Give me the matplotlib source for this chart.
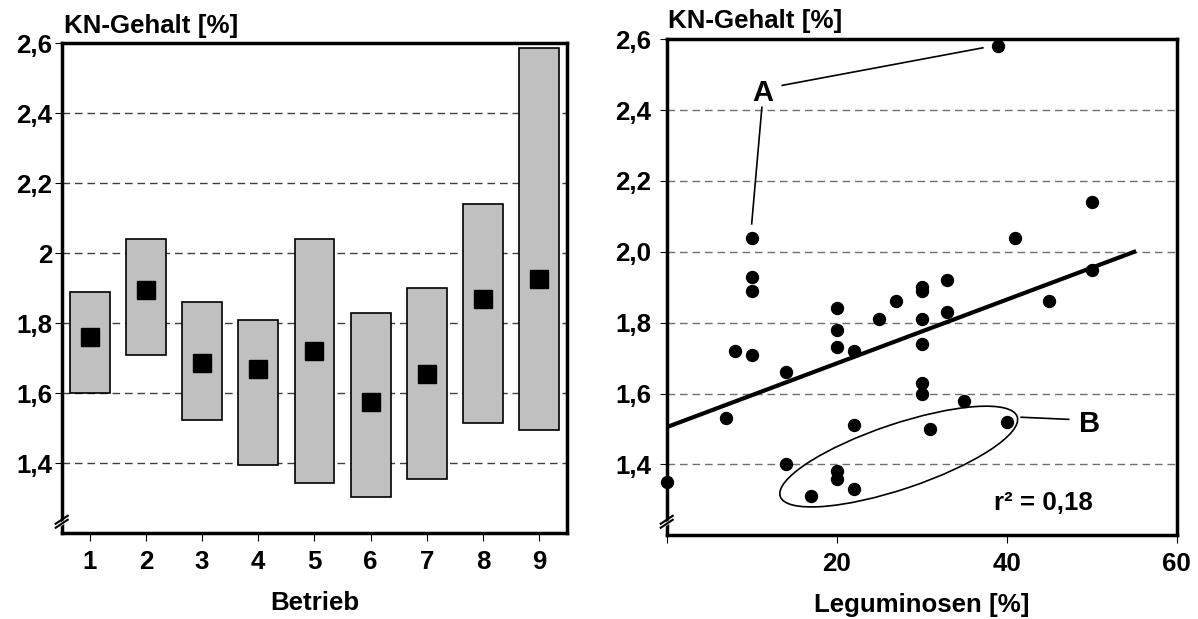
import numpy as np
import matplotlib.pyplot as plt
from matplotlib.patches import Ellipse, Polygon
from matplotlib.transforms import ScaledTranslation

plt.rc('font', family='Liberation Sans', weight='bold', size=18.6)
plt.rc('axes', labelweight='bold')

# KN-Gehalt je Betrieb: Spannweite (min/max) und Mittelwert
betrieb = [1, 2, 3, 4, 5, 6, 7, 8, 9]
kn_min = [1.60, 1.71, 1.525, 1.395, 1.345, 1.305, 1.355, 1.515, 1.495]
kn_max = [1.89, 2.04, 1.86, 1.81, 2.04, 1.83, 1.90, 2.14, 2.585]
kn_mean = [1.76, 1.895, 1.685, 1.67, 1.72, 1.575, 1.655, 1.87, 1.925]

# KN-Gehalt gegen Leguminosenanteil
leg = [39, 10, 10, 10, 50, 41, 50, 33, 30, 30, 27, 45, 20, 33, 25, 30, 20, 20,
       22, 8, 10, 14, 30, 30, 30, 35, 7, 22, 31, 40, 14, 0, 20, 20, 17, 22]
kn = [2.58, 2.04, 1.93, 1.89, 2.14, 2.04, 1.95, 1.92, 1.90, 1.89, 1.86, 1.86,
      1.84, 1.83, 1.81, 1.81, 1.78, 1.73, 1.72, 1.72, 1.71, 1.66, 1.74, 1.63,
      1.60, 1.58, 1.53, 1.51, 1.50, 1.52, 1.40, 1.35, 1.38, 1.36, 1.31, 1.33]

# Regressionsgerade
reg_intercept = 1.505
reg_slope = 0.009
reg_xmax = 55
r2 = 0.18

yticks = [1.4, 1.6, 1.8, 2.0, 2.2, 2.4, 2.6]
left_ylabels = ['1,4', '1,6', '1,8', '2', '2,2', '2,4', '2,6']
right_ylabels = ['1,4', '1,6', '1,8', '2,0', '2,2', '2,4', '2,6']

fig = plt.figure(figsize=(11.98, 6.19), dpi=100)
ax1 = fig.add_axes([0.0515, 0.1384, 0.4220, 0.7921])
ax2 = fig.add_axes([0.5565, 0.1354, 0.4257, 0.8011])


def style_axes(ax, gridcolor, ypad):
    for s in ax.spines.values():
        s.set_linewidth(2.5)
    ax.set_ylim(1.2, 2.6)
    ax.set_yticks(yticks)
    ax.tick_params(axis='y', direction='out', length=5.3, width=0.8, pad=ypad)
    ax.tick_params(axis='x', direction='out', length=6, width=0.8, pad=6)
    ax.set_axisbelow(True)
    ax.yaxis.grid(True, color=gridcolor, linestyle=(0, (5.5, 3.5)), linewidth=1)


def axis_break(ax, yfrac):
    # "//" Achsenbruch unten an der y-Achse
    tr = fig.dpi_scale_trans + ScaledTranslation(0, yfrac, ax.transAxes)
    gap = Polygon([(-0.06, -0.07), (0.06, 0.01), (0.06, 0.05), (-0.06, -0.03)],
                  closed=True, facecolor='white', edgecolor='none',
                  transform=tr, clip_on=False, zorder=10)
    ax.add_patch(gap)
    for dy in (-0.03, 0.01):
        ax.plot([-0.06, 0.06], [dy - 0.02, dy + 0.06], color='black', lw=1.5,
                transform=tr, clip_on=False, zorder=11)


# linkes Diagramm
style_axes(ax1, '#404040', 1.5)
ax1.bar(betrieb, np.array(kn_max) - np.array(kn_min), bottom=kn_min, width=0.71,
        color='#c0c0c0', edgecolor='black', linewidth=1.2, zorder=2)
ax1.plot(betrieb, kn_mean, 's', color='black', markersize=13, zorder=3)
ax1.set_xlim(0.5, 9.5)
ax1.set_xticks(betrieb)
ax1.set_yticklabels(left_ylabels)
ax1.set_xlabel('Betrieb', labelpad=12.5)
ax1.text(0.005, 1.0198, 'KN-Gehalt [%]', transform=ax1.transAxes,
         ha='left', va='baseline')
axis_break(ax1, 0.0216)

# rechtes Diagramm
style_axes(ax2, '#707070', 5.6)
ax2.plot(leg, kn, 'o', color='black', markersize=8.6, clip_on=False, zorder=5)
xs = np.array([0, reg_xmax])
ax2.plot(xs, reg_intercept + reg_slope * xs, color='black', lw=3, zorder=4)
ax2.set_xlim(0, 60)
ax2.set_xticks([0, 20, 40, 60])
ax2.set_xticklabels(['', '20', '40', '60'])
ax2.set_yticklabels(right_ylabels)
ax2.set_xlabel('Leguminosen [%]', labelpad=12.5)
ax2.text(0.003, 1.022, 'KN-Gehalt [%]', transform=ax2.transAxes,
         ha='left', va='baseline')

# Markierung A
ax2.text(11.3, 2.448, 'A', fontsize=21, ha='center', va='center')
ax2.plot([13.6, 37.2], [2.470, 2.576], color='black', lw=1.2)
ax2.plot([11.2, 10.0], [2.408, 2.079], color='black', lw=1.2)

# Markierung B
ell = Ellipse((0, 0), 2.50, 0.65, angle=18.6, fill=False, edgecolor='black',
              lw=1.2, transform=fig.dpi_scale_trans
              + ScaledTranslation(27.3, 1.422, ax2.transData))
ax2.add_patch(ell)
ax2.plot([41.7, 47.3], [1.533, 1.527], color='black', lw=1.2)
ax2.text(49.7, 1.514, 'B', fontsize=21, ha='center', va='center')

ax2.text(50.1, 1.271, 'r² = ' + f'{r2:.2f}'.replace('.', ','), ha='right',
         va='baseline')
axis_break(ax2, 0.025)

fig.savefig('out.png', dpi=100)
